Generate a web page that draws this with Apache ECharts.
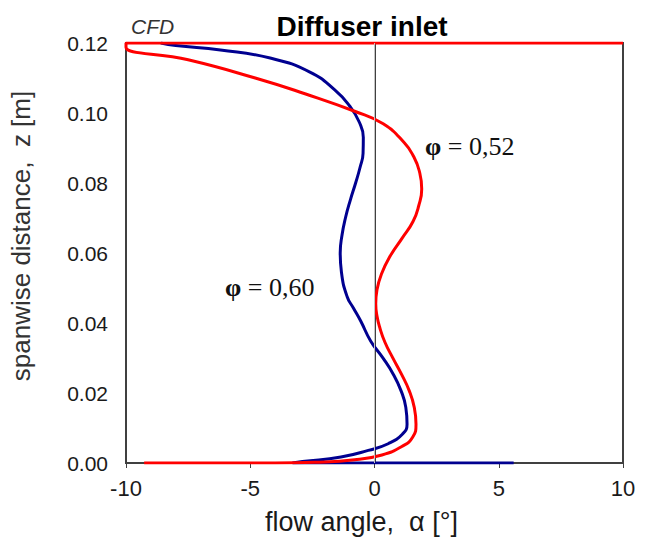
<!DOCTYPE html>
<html>
<head>
<meta charset="utf-8">
<script src="https://cdn.jsdelivr.net/npm/echarts@6/dist/echarts.min.js"></script>
<style>
html,body{margin:0;padding:0;background:#fff;}
#chart{width:645px;height:540px;}
</style>
</head>
<body>
<div id="chart"></div>
<script>
// ---- data ----
var titleText = 'Diffuser inlet';
var cornerText = 'CFD';
var xAxisTitle = 'flow angle,  α [°]';
var yAxisTitle = 'spanwise distance,  z [m]';
var xTicks = [-10, -5, 0, 5, 10];
var yTicks = [0.00, 0.02, 0.04, 0.06, 0.08, 0.10, 0.12];
var seriesNames = ['φ = 0,60', 'φ = 0,52'];

// [flow angle (deg), z (m)]
var phi060 = [
  [-8.6, 0.1200], [-8.0, 0.1193], [-6.2, 0.1180], [-4.2, 0.1157], [-2.6, 0.1117],
  [-1.6, 0.1066], [-1.0, 0.1020], [-0.62, 0.0975], [-0.45, 0.0930], [-0.46, 0.0885],
  [-0.58, 0.0845], [-0.76, 0.0800], [-0.97, 0.0752], [-1.17, 0.0700], [-1.31, 0.0650],
  [-1.38, 0.0600], [-1.33, 0.0545], [-1.10, 0.0475], [-0.85, 0.0443], [-0.55, 0.0405],
  [-0.15, 0.0348], [0.33, 0.0301], [0.76, 0.0253], [1.07, 0.0206], [1.26, 0.0159],
  [1.31, 0.0111], [1.13, 0.0083], [0.55, 0.0055], [-0.25, 0.0036], [-1.35, 0.0017],
  [-2.9, 0.0004], [-3.3, 0.0000], [5.6, 0.0000]
];
var phi052 = [
  [10, 0.1200], [-10, 0.1200], [-10, 0.1188], [-7.5, 0.1152], [-4.8, 0.1100],
  [-2.8, 0.1055], [-0.8, 0.1005], [0.35, 0.0969], [1.2, 0.0915], [1.58, 0.0875],
  [1.80, 0.0835], [1.90, 0.0783], [1.78, 0.0735], [1.55, 0.0690], [1.10, 0.0641],
  [0.62, 0.0590], [0.28, 0.0540], [0.10, 0.0495], [0.05, 0.0455], [0.10, 0.0420],
  [0.22, 0.0385], [0.42, 0.0345], [0.73, 0.0301], [1.09, 0.0253], [1.40, 0.0206],
  [1.60, 0.0159], [1.67, 0.0111], [1.54, 0.0074], [1.10, 0.0047], [0.30, 0.0023],
  [-0.80, 0.0009], [-2.4, 0.0002], [-4.0, 0.0000], [-9.27, 0.0000]
];

var chart = echarts.init(document.getElementById('chart'), null, {renderer: 'svg'});
var axisColor = '#404040';
var option = {
  backgroundColor: '#ffffff',
  animation: false,
  grid: {left: 126, right: 22, top: 43, bottom: 74, show: true, borderColor: axisColor, borderWidth: 2, backgroundColor: 'transparent'},
  title: [
    {text: titleText, left: 357, top: 7, textAlign: 'center',
     textStyle: {fontFamily: 'Liberation Sans', fontWeight: 'bold', fontSize: 28, color: '#000'}},
    {text: cornerText, left: 126, top: 11,
     textStyle: {fontFamily: 'Liberation Sans', fontStyle: 'italic', fontWeight: 'normal', fontSize: 21, color: '#333'}}
  ],
  xAxis: {
    type: 'value', min: xTicks[0], max: xTicks[xTicks.length - 1], interval: 5,
    axisLine: {show: true, lineStyle: {color: axisColor, width: 2}},
    axisTick: {show: true, length: 5, lineStyle: {color: axisColor, width: 1}},
    splitLine: {show: false},
    axisLabel: {fontFamily: 'Liberation Sans', fontSize: 22, color: '#1a1a1a', margin: 14},
    name: xAxisTitle, nameLocation: 'middle', nameGap: 45,
    nameTextStyle: {fontFamily: 'Liberation Sans', fontSize: 27, color: '#1a1a1a', padding: [0, 26, 0, 0]}
  },
  yAxis: {
    type: 'value', min: yTicks[0], max: yTicks[yTicks.length - 1], interval: 0.02,
    axisLine: {show: true, lineStyle: {color: axisColor, width: 2}},
    axisTick: {show: false},
    splitLine: {show: false},
    axisLabel: {fontFamily: 'Liberation Sans', fontSize: 21, color: '#1a1a1a', margin: 18,
      formatter: function (v) { return v.toFixed(2); }},
    name: yAxisTitle, nameLocation: 'middle', nameGap: 92, nameRotate: 90,
    nameTextStyle: {fontFamily: 'Liberation Sans', fontSize: 26, color: '#333', padding: [0, 0, 0, 34]}
  },
  series: [
    {
      name: seriesNames[0], type: 'line', data: phi060, smooth: 0.5, showSymbol: false, symbol: 'none',
      clip: true, z: 3,
      lineStyle: {color: '#000090', width: 3},
      markLine: {
        silent: true, symbol: 'none', label: {show: false},
        lineStyle: {color: '#c4c4c4', width: 1, type: 'solid'},
        data: [{xAxis: 0}]
      }
    },
    {
      name: seriesNames[1], type: 'line', data: phi052, smooth: 0.5, showSymbol: false, symbol: 'none',
      clip: true, z: 4,
      lineStyle: {color: '#ff0000', width: 3}
    }
  ],
  graphic: [
    {type: 'text', left: 425, top: 133, z: 10,
     style: {text: '{b|φ} = 0,52', fill: '#111', font: '26px "Liberation Serif"',
       rich: {b: {fontFamily: 'Liberation Serif', fontWeight: 'bold', fontSize: 26, fill: '#111'}}}},
    {type: 'text', left: 225, top: 274, z: 10,
     style: {text: '{b|φ} = 0,60', fill: '#111', font: '26px "Liberation Serif"',
       rich: {b: {fontFamily: 'Liberation Serif', fontWeight: 'bold', fontSize: 26, fill: '#111'}}}}
  ]
};
chart.setOption(option);
</script>
</body>
</html>
